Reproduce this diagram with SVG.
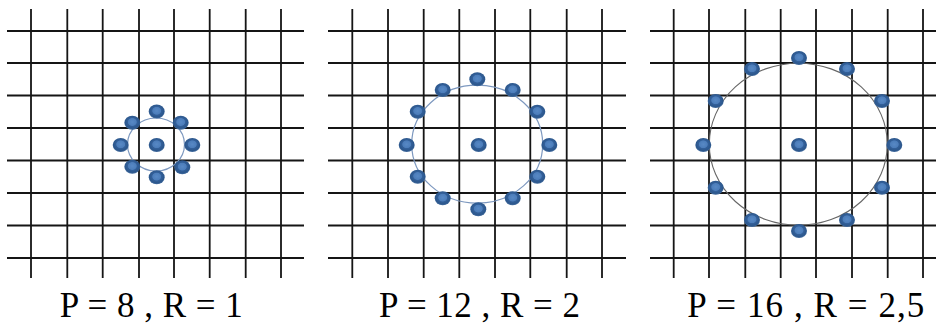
<svg xmlns="http://www.w3.org/2000/svg" xmlns:xlink="http://www.w3.org/1999/xlink" width="936" height="329" viewBox="0 0 936 329">
<style>
.g{stroke:#151515;stroke-width:1.8;fill:none}
.c1{fill:none;stroke:#7d98bf;stroke-width:1.2}
.c3{fill:none;stroke:#666;stroke-width:1.1}
text{font-family:'Liberation Serif','Times New Roman',Times,serif;font-size:35px;fill:#000}
</style>
<defs>
<radialGradient id="dg" cx="50%" cy="45%" r="50%">
<stop offset="0" stop-color="#5889c5"/>
<stop offset="0.5" stop-color="#4c7dba"/>
<stop offset="0.6" stop-color="#33609a"/>
<stop offset="0.9" stop-color="#2c578c"/>
<stop offset="1" stop-color="#3a6498"/>
</radialGradient>
<g id="dot"><ellipse rx="8" ry="7" fill="url(#dg)"/></g>
</defs>
<rect width="936" height="329" fill="#fff"/>

<g id="panel1">
<g id="grid1" class="g">
<path d="M7 31H304M7 63H304M7 95.5H304M7 128H304M7 160.5H304M7 193H304M7 225.5H304M7 258H304"/>
<path d="M31 9V278M67.3 9V278M102.7 9V278M139 9V278M174 9V278M209.7 9V278M245.7 9V278M281 9V278"/>
</g>
<ellipse class="c1" cx="156" cy="144.5" rx="28.5" ry="26.5"/>
<g id="dots1">
<use xlink:href="#dot" x="156.7" y="145"/>
<use xlink:href="#dot" x="156.7" y="111.5"/>
<use xlink:href="#dot" x="132.3" y="122.7"/>
<use xlink:href="#dot" x="180.7" y="122.7"/>
<use xlink:href="#dot" x="120.7" y="145"/>
<use xlink:href="#dot" x="192.3" y="145"/>
<use xlink:href="#dot" x="132.3" y="166.7"/>
<use xlink:href="#dot" x="182.3" y="167.3"/>
<use xlink:href="#dot" x="156.7" y="177.3"/>
</g>
<text x="59.7" y="317" textLength="183" lengthAdjust="spacing">P = 8 , R = 1</text>
</g>

<g id="panel2">
<g id="grid2" class="g">
<path d="M328 31H626M328 63H626M328 95.5H626M328 128H626M328 160.5H626M328 193H626M328 225.5H626M328 258H626"/>
<path d="M352.3 9V278M388 9V278M423.7 9V278M459.3 9V278M495 9V278M530.3 9V278M566.7 9V278M602 9V278"/>
</g>
<ellipse class="c1" cx="477.2" cy="144.2" rx="65.5" ry="59"/>
<g id="dots2">
<use xlink:href="#dot" x="478.7" y="145"/>
<use xlink:href="#dot" x="477.3" y="79.3"/>
<use xlink:href="#dot" x="442.7" y="90"/>
<use xlink:href="#dot" x="512.7" y="90"/>
<use xlink:href="#dot" x="417.7" y="111.7"/>
<use xlink:href="#dot" x="537.3" y="111.7"/>
<use xlink:href="#dot" x="406.7" y="145"/>
<use xlink:href="#dot" x="549.3" y="145"/>
<use xlink:href="#dot" x="417.7" y="176.7"/>
<use xlink:href="#dot" x="537.3" y="176.7"/>
<use xlink:href="#dot" x="442.7" y="198.3"/>
<use xlink:href="#dot" x="512.7" y="198.3"/>
<use xlink:href="#dot" x="478.3" y="209.3"/>
</g>
<text x="379" y="317" textLength="201" lengthAdjust="spacing">P = 12 , R = 2</text>
</g>

<g id="panel3">
<g id="grid3" class="g">
<path d="M650 31H936M650 63H936M650 95.5H936M650 128H936M650 160.5H936M650 193H936M650 225.5H936M650 258H936"/>
<path d="M673.7 9V278M709 9V278M745.3 9V278M780.7 9V278M816 9V278M852 9V278M887.7 9V278M923 9V278"/>
</g>
<ellipse class="c3" cx="798.3" cy="144.2" rx="89" ry="81"/>
<g id="dots3">
<use xlink:href="#dot" x="799" y="145"/>
<use xlink:href="#dot" x="799" y="58"/>
<use xlink:href="#dot" x="752" y="69"/>
<use xlink:href="#dot" x="847" y="69"/>
<use xlink:href="#dot" x="715.7" y="101"/>
<use xlink:href="#dot" x="882" y="101"/>
<use xlink:href="#dot" x="703.3" y="145"/>
<use xlink:href="#dot" x="894.3" y="145"/>
<use xlink:href="#dot" x="715.7" y="187.7"/>
<use xlink:href="#dot" x="882" y="187.7"/>
<use xlink:href="#dot" x="752" y="220"/>
<use xlink:href="#dot" x="847" y="220"/>
<use xlink:href="#dot" x="799" y="231"/>
</g>
<text x="687.3" y="317" textLength="237" lengthAdjust="spacing">P = 16 , R = 2,5</text>
</g>
</svg>
